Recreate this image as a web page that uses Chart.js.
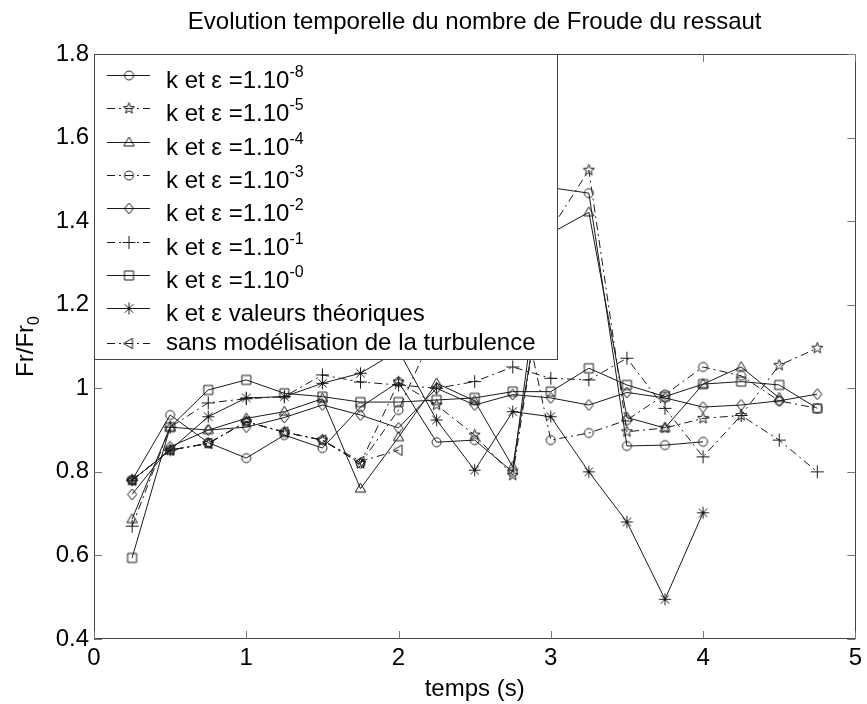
<!DOCTYPE html>
<html>
<head>
<meta charset="utf-8">
<script src="https://cdn.jsdelivr.net/npm/chart.js@4.4.1/dist/chart.umd.min.js"></script>
<style>
  html, body { margin: 0; padding: 0; background: #fff; }
  #wrap { width: 867px; height: 704px; }
</style>
</head>
<body>
<div id="wrap"><canvas id="froude" width="867" height="704"></canvas></div>
<script>
'use strict';

// temps (s)
let temps = [0.25, 0.5, 0.75, 1, 1.25, 1.5, 1.75, 2, 2.25, 2.5, 2.75, 3, 3.25, 3.5, 3.75, 4, 4.25, 4.5, 4.75];

// Fr/Fr0 for each run (hidden points under the legend are guesses)
let fr1e8 = [0.78, 0.936, 0.87, 0.833, 0.888, 0.857, 0.955, 1.015, 0.871, 0.876, 0.80, 1.48, 1.467, 0.862, 0.864, 0.872];
let fr1e5 = [0.78, 0.852, 0.868, 0.92, 0.895, 0.876, 0.82, 1.015, 0.96, 0.888, 0.792, 1.38, 1.522, 0.896, 0.905, 0.928, 0.935, 1.055, 1.096];
let fr1e4 = [0.687, 0.907, 0.90, 0.928, 0.944, 0.975, 0.76, 0.883, 1.012, 0.97, 0.812, 1.371, 1.421, 0.93, 0.905, 1.01, 1.051, 0.977];
let fr1e3 = [0.78, 0.852, 0.868, 0.92, 0.895, 0.876, 0.82, 0.948, 1.15, 1.2, 1.30, 0.876, 0.893, 0.924, 0.985, 1.051, 1.03, 0.97, 0.952];
let fr1e2 = [0.746, 0.86, 0.90, 0.907, 0.93, 0.96, 0.936, 0.905, 1.0, 0.96, 0.985, 0.977, 0.96, 0.99, 0.977, 0.955, 0.96, 0.97, 0.986];
let fr1e1 = [0.67, 0.907, 0.965, 0.975, 0.98, 1.032, 1.015, 1.008, 1.0, 1.016, 1.051, 1.024, 1.02, 1.072, 0.952, 0.836, 0.935, 0.876, 0.80];
let fr1e0 = [0.594, 0.907, 0.996, 1.02, 0.988, 0.98, 0.967, 0.967, 0.972, 0.977, 0.992, 0.992, 1.048, 1.008, 0.98, 1.01, 1.016, 1.008, 0.952];
let frTheo = [0.78, 0.852, 0.932, 0.977, 0.98, 1.012, 1.036, 1.09, 0.924, 0.804, 0.944, 0.932, 0.80, 0.68, 0.495, 0.702];
let frSans = [0.78, 0.852, 0.868, 0.92, 0.895, 0.876, 0.825, 0.852];

let xTicks = [0, 1, 2, 3, 4, 5];
let yTicks = [0.4, 0.6, 0.8, 1, 1.2, 1.4, 1.6, 1.8];

// legend text : main part + exponent
let legendMain = ['k et \u03b5 =1.10', 'k et \u03b5 =1.10', 'k et \u03b5 =1.10', 'k et \u03b5 =1.10',
  'k et \u03b5 =1.10', 'k et \u03b5 =1.10', 'k et \u03b5 =1.10',
  'k et \u03b5 valeurs th\u00e9oriques', 'sans mod\u00e9lisation de la turbulence'];
let legendExp = ['-8', '-5', '-4', '-3', '-2', '-1', '-0', '', ''];

let titleText = 'Evolution temporelle du nombre de Froude du ressaut';
let xTitle = 'temps (s)';

const FONT = '"Liberation Sans", Arial, sans-serif';
const INK = '#1a1a1a';
const SOLID = [];
const DASHDOT = [8, 4, 2, 4];

// markers drawn like matlab (hollow, thin)
function makeMarker(kind) {
  let c = document.createElement('canvas');
  c.width = 17;
  c.height = 17;
  let g = c.getContext('2d');
  g.translate(8.5, 8.5);
  g.strokeStyle = INK;
  g.lineWidth = 1;
  g.beginPath();
  if (kind === 'circle') {
    g.arc(0, 0, 4.5, 0, Math.PI * 2);
  } else if (kind === 'pentagram') {
    for (let i = 0; i < 10; i++) {
      let r = i % 2 === 0 ? 5.8 : 2.4;
      let a = -Math.PI / 2 + i * Math.PI / 5;
      if (i === 0) g.moveTo(r * Math.cos(a), r * Math.sin(a));
      else g.lineTo(r * Math.cos(a), r * Math.sin(a));
    }
    g.closePath();
  } else if (kind === 'triangle') {
    g.moveTo(0, -5.5); g.lineTo(5.2, 3.5); g.lineTo(-5.2, 3.5); g.closePath();
  } else if (kind === 'diamond') {
    g.moveTo(0, -5.5); g.lineTo(4.5, 0); g.lineTo(0, 5.5); g.lineTo(-4.5, 0); g.closePath();
  } else if (kind === 'plus') {
    g.moveTo(-6.5, 0); g.lineTo(6.5, 0); g.moveTo(0, -6.5); g.lineTo(0, 6.5);
  } else if (kind === 'square') {
    g.rect(-4.5, -4.5, 9, 9);
  } else if (kind === 'asterisk') {
    for (let i = 0; i < 4; i++) {
      let a = i * Math.PI / 4;
      g.moveTo(-6 * Math.cos(a), -6 * Math.sin(a));
      g.lineTo(6 * Math.cos(a), 6 * Math.sin(a));
    }
  } else if (kind === 'left') {
    g.moveTo(-5.5, 0); g.lineTo(3.5, -5.2); g.lineTo(3.5, 5.2); g.closePath();
  }
  g.stroke();
  return c;
}

let runs = [
  { data: fr1e8, marker: 'circle', dash: SOLID },
  { data: fr1e5, marker: 'pentagram', dash: DASHDOT },
  { data: fr1e4, marker: 'triangle', dash: SOLID },
  { data: fr1e3, marker: 'circle', dash: DASHDOT },
  { data: fr1e2, marker: 'diamond', dash: SOLID },
  { data: fr1e1, marker: 'plus', dash: DASHDOT },
  { data: fr1e0, marker: 'square', dash: SOLID },
  { data: frTheo, marker: 'asterisk', dash: SOLID },
  { data: frSans, marker: 'left', dash: DASHDOT }
];

let datasets = [];
for (let i = 0; i < runs.length; i++) {
  let img = makeMarker(runs[i].marker);
  runs[i].img = img;
  datasets.push({
    label: legendMain[i] + legendExp[i],
    data: runs[i].data.map((v, j) => ({ x: temps[j], y: v })),
    borderColor: INK,
    borderWidth: 1,
    borderDash: runs[i].dash,
    pointStyle: img,
    pointRadius: 5,
    pointHoverRadius: 5,
    backgroundColor: 'rgba(0,0,0,0)',
    fill: false,
    tension: 0
  });
}

// box, inner ticks, title, axis labels and the matlab style legend
const matlabDecor = {
  id: 'matlabDecor',
  afterDraw(chart) {
    const ctx = chart.ctx;
    const a = chart.chartArea;
    const xs = chart.scales.x;
    const ys = chart.scales.y;
    ctx.save();

    // axes box
    ctx.strokeStyle = '#444';
    ctx.lineWidth = 1;
    ctx.setLineDash([]);
    ctx.strokeRect(Math.round(a.left) + 0.5, Math.round(a.top) + 0.5,
      Math.round(a.right - a.left), Math.round(a.bottom - a.top) - 1);

    // inner ticks on all four sides
    ctx.strokeStyle = '#777';
    ctx.beginPath();
    xTicks.forEach(v => {
      let px = Math.round(xs.getPixelForValue(v)) + 0.5;
      ctx.moveTo(px, a.bottom); ctx.lineTo(px, a.bottom - 8);
      ctx.moveTo(px, a.top); ctx.lineTo(px, a.top + 8);
    });
    yTicks.forEach(v => {
      let py = Math.round(ys.getPixelForValue(v)) + 0.5;
      ctx.moveTo(a.left, py); ctx.lineTo(a.left + 8, py);
      ctx.moveTo(a.right, py); ctx.lineTo(a.right - 8, py);
    });
    ctx.stroke();

    // texts
    ctx.fillStyle = '#000';
    ctx.textAlign = 'center';
    ctx.textBaseline = 'alphabetic';
    ctx.font = '24px ' + FONT;
    ctx.fillText(titleText, (a.left + a.right) / 2, 29);
    ctx.fillText(xTitle, (a.left + a.right) / 2, 696);

    ctx.save();
    ctx.translate(33, (a.top + a.bottom) / 2);
    ctx.rotate(-Math.PI / 2);
    ctx.textAlign = 'left';
    let w1 = ctx.measureText('Fr/Fr').width;
    ctx.font = '16px ' + FONT;
    let w2 = ctx.measureText('0').width;
    let start = -(w1 + w2) / 2;
    ctx.font = '24px ' + FONT;
    ctx.fillText('Fr/Fr', start, 0);
    ctx.font = '16px ' + FONT;
    ctx.fillText('0', start + w1, 6);
    ctx.restore();

    // legend
    const L = a.left, T = a.top, W = 463, H = 305;
    ctx.fillStyle = '#fff';
    ctx.fillRect(L, T, W, H);
    ctx.strokeStyle = '#444';
    ctx.strokeRect(Math.round(L) + 0.5, Math.round(T) + 0.5, W, H);
    ctx.textAlign = 'left';
    for (let i = 0; i < runs.length; i++) {
      let sy = i < 8 ? T + 21 + 33.3 * i : T + 289;
      let base = i < 8 ? sy + 13 : sy + 7;
      ctx.strokeStyle = INK;
      ctx.lineWidth = 1;
      ctx.setLineDash(runs[i].dash);
      ctx.beginPath();
      ctx.moveTo(L + 13, Math.round(sy) + 0.5);
      ctx.lineTo(L + 56, Math.round(sy) + 0.5);
      ctx.stroke();
      ctx.setLineDash([]);
      ctx.drawImage(runs[i].img, L + 35 - 8.5, Math.round(sy) + 0.5 - 8.5);
      ctx.fillStyle = '#000';
      ctx.font = '24px ' + FONT;
      ctx.fillText(legendMain[i], L + 72, base);
      if (legendExp[i]) {
        let mw = ctx.measureText(legendMain[i]).width;
        ctx.font = '16px ' + FONT;
        ctx.fillText(legendExp[i], L + 72 + mw, base - 11);
      }
    }
    ctx.restore();
  }
};

const ctx = document.getElementById('froude');
const froudeChart = new Chart(ctx, {
  type: 'line',
  data: { datasets: datasets },
  options: {
    responsive: false,
    animation: false,
    devicePixelRatio: 1,
    layout: { padding: { top: 54, right: 7, left: 0, bottom: 0 } },
    plugins: {
      legend: { display: false },
      title: { display: false },
      tooltip: { enabled: false }
    },
    scales: {
      x: {
        type: 'linear',
        min: 0,
        max: 5,
        afterFit: (s) => { s.height = 65; },
        afterBuildTicks: (s) => { s.ticks = xTicks.map(v => ({ value: v })); },
        grid: { display: false, drawTicks: false },
        border: { display: false },
        ticks: { padding: 5, color: '#000', font: { family: FONT, size: 24 } }
      },
      y: {
        type: 'linear',
        min: 0.4,
        max: 1.8,
        afterFit: (s) => { s.width = 94; },
        afterBuildTicks: (s) => { s.ticks = yTicks.map(v => ({ value: v })); },
        grid: { display: false, drawTicks: false },
        border: { display: false },
        ticks: {
          padding: 5,
          color: '#000',
          font: { family: FONT, size: 24 },
          callback: (v) => String(Math.round(v * 10) / 10)
        }
      }
    }
  },
  plugins: [matlabDecor]
});
</script>
</body>
</html>
